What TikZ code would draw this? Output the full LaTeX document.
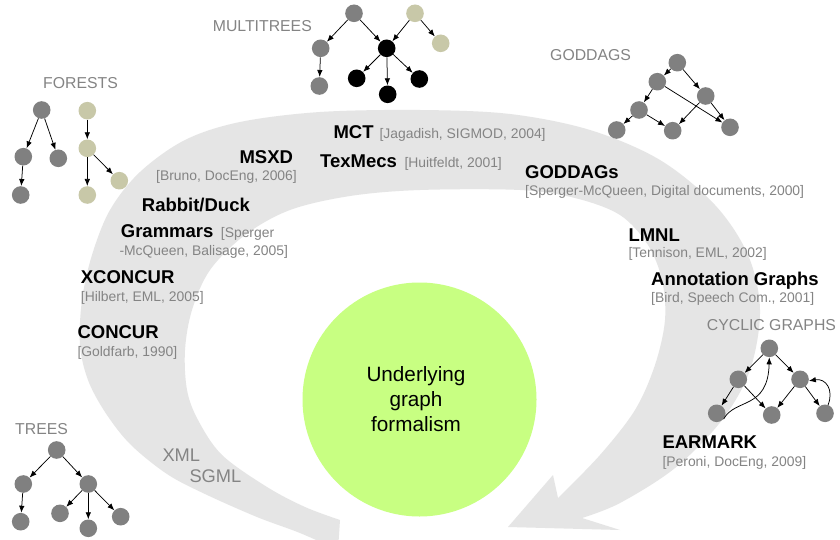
\documentclass[tikz,border=0pt]{standalone}
\usepackage{fontspec}
\setmainfont{Liberation Sans}
\usetikzlibrary{arrows.meta}
\definecolor{bandgray}{RGB}{229,229,229}
\definecolor{ngray}{RGB}{128,128,128}
\definecolor{nbeige}{RGB}{200,200,168}
\definecolor{lgreen}{RGB}{200,255,130}
\definecolor{tgray}{RGB}{132,132,132}
\tikzset{
  nd/.style={circle, inner sep=0pt, minimum size=17.6pt},
  gn/.style={nd, fill=ngray},
  bn/.style={nd, fill=nbeige},
  kn/.style={nd, fill=black},
  edge/.style={-{Latex[length=7pt,width=5.5pt]}, line width=0.75pt, black},
  cat/.style={anchor=base west, inner sep=0pt, text=tgray, font=\fontsize{15.8}{18}\selectfont},
  ttl/.style={anchor=base west, inner sep=0pt, font=\fontsize{18.5}{22}\selectfont\bfseries},
  cit/.style={anchor=base west, inner sep=0pt, text=tgray, font=\fontsize{13.9}{16}\selectfont},
  lang/.style={anchor=base west, inner sep=0pt, text=tgray, font=\fontsize{18.3}{21}\selectfont},
  ctr/.style={anchor=base, inner sep=0pt, font=\fontsize{20.7}{25}\selectfont},
}
\begin{document}
\begin{tikzpicture}[x=1pt,y=-1pt]
\clip (0,0) rectangle (840,540);
\fill[white] (0,0) rectangle (840,540);
% big curved arrow band
\fill[bandgray]
  plot[smooth, tension=0.55] coordinates {(338,550) (300,533) (257,517) (205,494) (167,474) (130,444) (105,412) (88,380) (80,345) (82,300) (92,255) (110,210) (140,172) (185,140) (240,122) (320,112) (420,110) (510,114) (590,130) (660,160) (715,205) (748,255) (760,310) (750,370) (722,420) (675,468) (620,503) (582,518)}
  -- (620,530) -- (508,527) -- (553,475)
  -- plot[smooth, tension=0.55] coordinates {(558,498) (600,455) (635,410) (655,365) (665,320) (662,280) (648,245) (620,215) (575,198) (520,190) (420,190) (350,196) (290,210) (245,235) (210,270) (192,310) (185,350) (187,390) (198,420) (222,455) (267,487) (305,507) (340,520)}
  -- cycle;
% central circle
\node[circle, fill=lgreen, minimum size=234pt, inner sep=0pt] (core) at (419.5,399.5) {};
\node[ctr] (ul1) at (416,381.7) {Underlying};
\node[ctr] (ul2) at (416,406.7) {graph};
\node[ctr] (ul3) at (416,431.7) {formalism};

% FORESTS
\node[cat] (lforest) at (43,88.3) {FORESTS};
\node[gn] (f1) at (41.7,110) {};
\node[gn] (f2) at (23.3,156.7) {};
\node[gn] (f3) at (58.3,158.3) {};
\node[gn] (f4) at (20.7,195) {};
\node[bn] (g1) at (87.3,110.7) {};
\node[bn] (g2) at (87.3,148.3) {};
\node[bn] (g3) at (87.3,195) {};
\node[bn] (g4) at (119.3,180.7) {};
\draw[edge] (f1) -- (f2);
\draw[edge] (f1) -- (f3);
\draw[edge] (f2) -- (f4);
\draw[edge] (g1) -- (g2);
\draw[edge] (g2) -- (g3);
\draw[edge] (g2) -- (g4);

% MULTITREES
\node[cat] (lmulti) at (212.7,31.7) {MULTITREES};
\node[gn] (m1) at (354,13.3) {};
\node[gn] (m2) at (320.7,48.3) {};
\node[gn] (m3) at (319.3,86) {};
\node[kn] (m4) at (386.7,48.3) {};
\node[kn] (m5) at (356.7,78.3) {};
\node[kn] (m6) at (387.7,94.3) {};
\node[kn] (m7) at (419.3,79) {};
\node[bn] (m8) at (415,13.3) {};
\node[bn] (m9) at (440.7,43.3) {};
\draw[edge] (m1) -- (m2);
\draw[edge] (m1) -- (m4);
\draw[edge] (m2) -- (m3);
\draw[edge] (m8) -- (m4);
\draw[edge] (m8) -- (m9);
\draw[edge] (m4) -- (m5);
\draw[edge] (m4) -- (m6);
\draw[edge] (m4) -- (m7);

% GODDAGS
\node[cat] (lgoddag) at (550,60.7) {GODDAGS};
\node[gn] (dA) at (677.3,62.7) {};
\node[gn] (dB) at (657.3,81.7) {};
\node[gn] (dC) at (705.7,96) {};
\node[gn] (dD) at (639,110) {};
\node[gn] (dE) at (616.7,130) {};
\node[gn] (dF) at (672.7,130.7) {};
\node[gn] (dG) at (730,127.3) {};
\draw[edge] (dA) -- (dB);
\draw[edge] (dA) -- (dC);
\draw[edge] (dB) -- (dD);
\draw[edge] (dB) -- (dG);
\draw[edge] (dD) -- (dE);
\draw[edge] (dD) -- (dF);
\draw[edge] (dC) -- (dF);
\draw[edge] (dC) -- (dG);

% CYCLIC GRAPHS
\node[cat] (lcyclic) at (706.7,330.7) {CYCLIC GRAPHS};
\node[gn] (cT) at (769.3,348.3) {};
\node[gn] (cL) at (738.3,379.3) {};
\node[gn] (cR) at (800,379.3) {};
\node[gn] (cLL) at (716.7,413.3) {};
\node[gn] (cM) at (771.7,415) {};
\node[gn] (cRR) at (825,413.3) {};
\draw[edge] (cT) -- (cL);
\draw[edge] (cT) -- (cR);
\draw[edge] (cL) -- (cLL);
\draw[edge] (cL) -- (cM);
\draw[edge] (cR) -- (cM);
\draw[edge] (cR) -- (cRR);
\draw[edge] (cLL.-40) .. controls (735,398) and (768,410) .. (cT.south);
\draw[edge] (cRR.70) .. controls (834,390) and (826,378) .. (cR.-10);

% TREES
\node[cat] (ltrees) at (15,434) {TREES};
\node[gn] (t1) at (56.7,450) {};
\node[gn] (t2) at (23.3,484) {};
\node[gn] (t3) at (88.3,484) {};
\node[gn] (t4) at (20.7,521.7) {};
\node[gn] (t5) at (60,513.3) {};
\node[gn] (t6) at (88.3,528.3) {};
\node[gn] (t7) at (120.7,516.7) {};
\draw[edge] (t1) -- (t2);
\draw[edge] (t1) -- (t3);
\draw[edge] (t2) -- (t4);
\draw[edge] (t3) -- (t5);
\draw[edge] (t3) -- (t6);
\draw[edge] (t3) -- (t7);

% languages
\node[lang] (xml) at (162.3,461) {XML};
\node[lang] (sgml) at (189.3,482.7) {SGML};

% formalisms
\node[ttl] (mct) at (333.3,138.3) {MCT};
\node[cit] (mctc) at (379.3,138.3) {[Jagadish, SIGMOD, 2004]};
\node[ttl] (texm) at (320,167.3) {TexMecs};
\node[cit] (texmc) at (404.3,167.3) {[Huitfeldt, 2001]};
\node[ttl] (godd) at (525,178.3) {GODDAGs};
\node[cit] (goddc) at (525,196) {[Sperger-McQueen, Digital documents, 2000]};
\node[ttl] (lmnl) at (628.3,241) {LMNL};
\node[cit] (lmnlc) at (628.3,257.7) {[Tennison, EML, 2002]};
\node[ttl] (anno) at (651,285) {Annotation Graphs};
\node[cit] (annoc) at (651,302.7) {[Bird, Speech Com., 2001]};
\node[ttl] (msxd) at (239.3,163.3) {MSXD};
\node[cit] (msxdc) at (156,180.7) {[Bruno, DocEng, 2006]};
\node[ttl] (rabb) at (141.7,211.7) {Rabbit/Duck};
\node[ttl] (gram) at (120.7,237.3) {Grammars};
\node[cit] (gramc) at (220.7,237.3) {[Sperger};
\node[cit] (gramd) at (119.3,255) {-McQueen, Balisage, 2005]};
\node[ttl] (xcon) at (80.7,283.3) {XCONCUR};
\node[cit] (xconc) at (80.7,301) {[Hilbert, EML, 2005]};
\node[ttl] (conc) at (77.3,338.3) {CONCUR};
\node[cit] (concc) at (77.3,356.7) {[Goldfarb, 1990]};
\node[ttl] (earm) at (662.3,448.3) {EARMARK};
\node[cit] (earmc) at (662.3,466) {[Peroni, DocEng, 2009]};
\end{tikzpicture}
\end{document}
